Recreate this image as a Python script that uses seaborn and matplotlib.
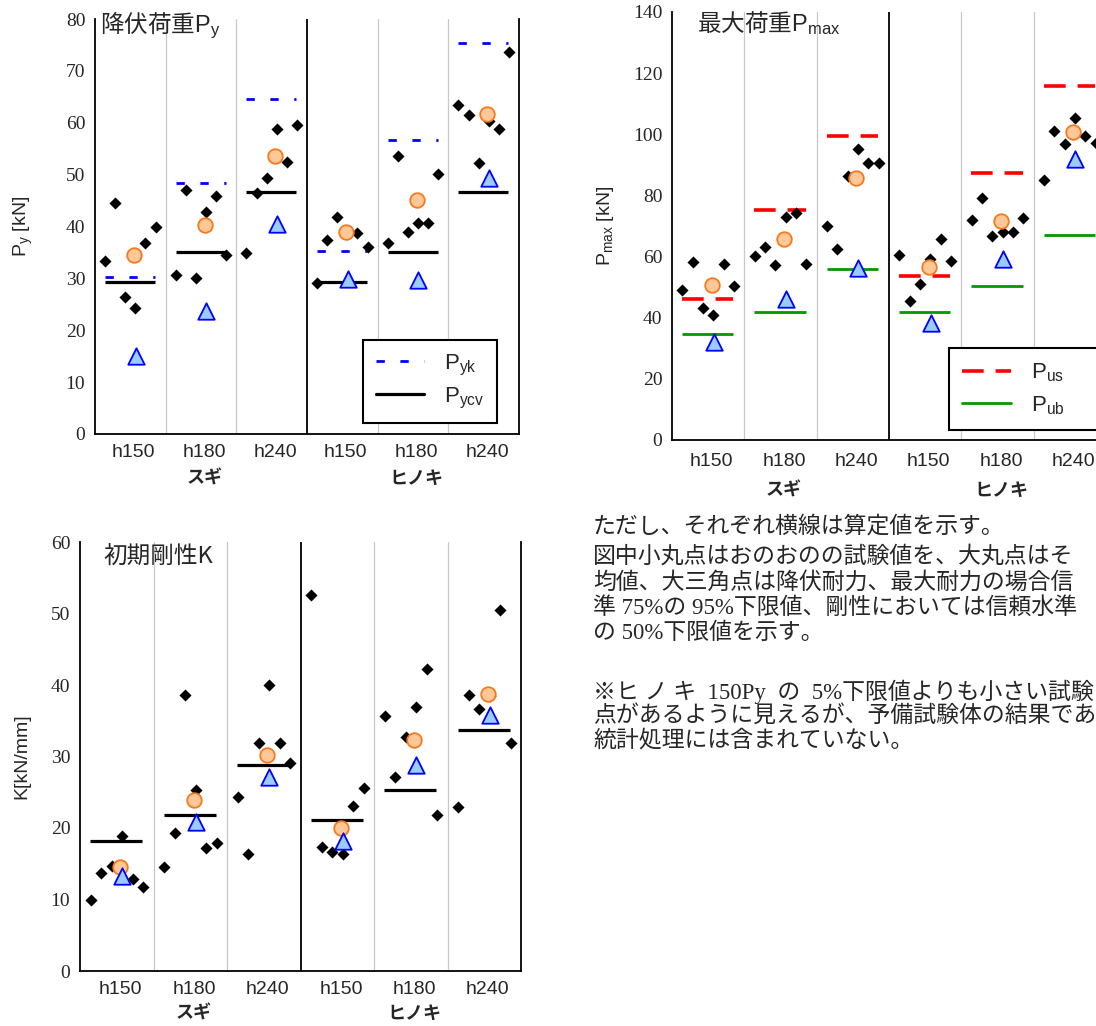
import numpy as np
import pandas as pd
import matplotlib
matplotlib.use("Agg")
import matplotlib.pyplot as plt
import seaborn as sns
from matplotlib.lines import Line2D
from matplotlib.transforms import blended_transform_factory

sns.set_theme(style="white")
plt.rcParams['font.family'] = ['Liberation Sans', 'Noto Sans CJK JP', 'DejaVu Sans']
plt.rcParams['mathtext.fontset'] = 'custom'
plt.rcParams['mathtext.rm'] = 'Liberation Sans'
plt.rcParams['mathtext.it'] = 'Liberation Sans'
plt.rcParams['mathtext.bf'] = 'Liberation Sans:bold'

# ---------------- data ----------------
groups = ["h150", "h180", "h240", "h150", "h180", "h240"]
species = ["スギ", "ヒノキ"]

py_tests = [
    [33.4, 44.5, 26.4, 24.3, 36.9, 40.0],
    [30.6, 47.1, 30.1, 42.8, 45.9, 34.5],
    [34.9, 46.5, 49.3, 58.7, 52.5, 59.6],
    [29.2, 37.4, 41.9, 38.6, 38.8, 36.0],
    [36.9, 53.6, 38.9, 40.6, 40.6, 50.2],
    [63.5, 61.5, 52.2, 60.3, 58.7, 73.7],
]
py_mean = [34.6, 40.3, 53.6, 38.9, 45.1, 61.6]
py_lower = [15.0, 23.8, 40.4, 29.9, 29.7, 49.3]
pyk = [30.3, 48.3, 64.5, 35.3, 56.6, 75.3]
pycv = [29.3, 35.0, 46.7, 29.3, 35.0, 46.7]

pmax_tests = [
    [49.0, 58.1, 43.1, 41.0, 57.6, 50.5],
    [60.1, 63.1, 57.1, 73.1, 74.2, 57.6],
    [70.1, 62.6, 86.5, 95.2, 90.6, 90.6],
    [60.6, 45.5, 51.1, 59.1, 65.7, 58.6],
    [72.1, 79.1, 66.6, 68.0, 68.0, 72.6],
    [85.1, 101.2, 96.7, 105.2, 99.6, 97.1],
]
pmax_mean = [50.6, 65.7, 85.7, 56.7, 71.7, 100.7]
pmax_lower = [32.2, 46.2, 56.2, 38.4, 59.1, 91.9]
pus = [46.2, 75.1, 99.5, 53.7, 87.5, 115.9]
pub = [34.8, 41.8, 55.9, 41.8, 50.4, 66.9]

k_tests = [
    [9.9, 13.7, 14.7, 18.9, 12.8, 11.7],
    [14.5, 19.3, 38.6, 25.3, 17.2, 17.9],
    [24.4, 16.4, 31.9, 40.0, 31.9, 29.1],
    [52.6, 17.4, 16.6, 16.4, 23.1, 25.6],
    [35.7, 27.1, 32.7, 36.9, 42.2, 21.8],
    [22.9, 38.6, 36.7, 38.5, 50.5, 31.9],
]
k_mean = [14.5, 23.9, 30.2, 20.0, 32.3, 38.8]
k_lower = [13.3, 20.8, 27.1, 18.2, 28.8, 35.8]
k_calc = [18.2, 21.75, 28.8, 21.1, 25.3, 33.7]

note_lines = [
    "ただし、それぞれ横線は算定値を示す。",
    "図中小丸点はおのおのの試験値を、大丸点はそ",
    "均値、大三角点は降伏耐力、最大耐力の場合信",
    "準 75%の 95%下限値、剛性においては信頼水準",
    "の 50%下限値を示す。",
    "※ヒ ノ キ  150Py  の  5%下限値よりも小さい試験",
    "点があるように見えるが、予備試験体の結果であ",
    "統計処理には含まれていない。",
]

# ---------------- style ----------------
W, H = 1096, 1026
fig = plt.figure(figsize=(W / 100, H / 100), dpi=100)

def fig_axes(left, top, right, bottom):
    return fig.add_axes([left / W, 1 - bottom / H, (right - left) / W, (bottom - top) / H])

ax1 = fig_axes(95, 19, 519, 434)
ax2 = fig_axes(672, 12, 1106, 440)
ax3 = fig_axes(80, 542, 521, 971)

CIRC_FILL, CIRC_EDGE = "#FFC896", "#F7791F"
TRI_FILL, TRI_EDGE = "#99CCFF", "#0000FF"
SERIF = ["Liberation Serif", "DejaVu Serif"]
JP = ["Noto Sans CJK JP", "DejaVu Sans"]

offsets = np.arange(1, 7) / 7.0
LX0, LX1 = 0.14, 0.85


def panel(ax, tests, means, lowers, ylim, ystep, lines, title, title_xy, ylabel, ylab_x,
          xlab_pad, sp_y):
    rows = []
    for g, vals in enumerate(tests):
        for j, v in enumerate(vals):
            rows.append({"x": g + offsets[j], "v": v})
    df = pd.DataFrame(rows)
    dm = pd.DataFrame({"x": np.arange(6) + 0.55, "v": means})
    dl = pd.DataFrame({"x": np.arange(6) + 0.575, "v": lowers})

    # separators
    for g in range(1, 6):
        if g == 3:
            ax.axvline(g, color="black", lw=1.3, zorder=1)
        else:
            ax.axvline(g, color="#C8C8C8", lw=0.9, zorder=1)

    # calculated lines
    for vals, kw in lines:
        for g, v in enumerate(vals):
            ax.plot([g + LX0, g + LX1], [v, v], zorder=2, solid_capstyle="butt",
                    dash_capstyle="butt", **kw)

    sns.scatterplot(data=df, x="x", y="v", marker="D", s=38, color="black",
                    linewidth=0, ax=ax, zorder=3)
    sns.scatterplot(data=dm, x="x", y="v", marker="o", s=110, color=CIRC_FILL,
                    edgecolor=CIRC_EDGE, linewidth=1.3, ax=ax, zorder=4)
    sns.scatterplot(data=dl, x="x", y="v", marker="^", s=140, color=TRI_FILL,
                    edgecolor=TRI_EDGE, linewidth=1.3, ax=ax, zorder=5)

    ax.set_xlim(0, 6)
    ax.set_ylim(*ylim)
    ax.set_yticks(np.arange(ylim[0], ylim[1] + 0.1, ystep))
    ax.set_xticks(np.arange(6) + 0.55)
    ax.set_xticklabels(groups, fontsize=14)
    ax.tick_params(axis="x", length=0, pad=xlab_pad)
    ax.tick_params(axis="y", direction="out", length=4, width=1.1, color="black",
                   labelsize=14, pad=3)
    for t in ax.get_yticklabels():
        t.set_fontfamily(SERIF)
    ax.set_xlabel("")
    ax.set_ylabel(ylabel, fontsize=14)
    ax.yaxis.set_label_coords(ylab_x, 0.5)
    ax.spines["top"].set_visible(False)
    for s in ("left", "bottom", "right"):
        ax.spines[s].set_color("black")
        ax.spines[s].set_linewidth(1.3)
    ax.grid(False)

    tr = blended_transform_factory(ax.transData, ax.transAxes)
    ax.text(1.55, sp_y, species[0], transform=tr, ha="center", va="center",
            fontsize=13, fontweight="bold", family=JP)
    ax.text(4.55, sp_y, species[1], transform=tr, ha="center", va="center",
            fontsize=13, fontweight="bold", family=JP)
    ax.text(title_xy[0], title_xy[1], title, transform=ax.transAxes, ha="left",
            va="center", fontsize=17, fontweight="normal",
            family=["Noto Sans CJK JP", "Liberation Sans"])


blue_dash = dict(color="#0000FF", lw=2.0, linestyle=(0, (3.0, 5.6)))
black_solid = dict(color="black", lw=2.3, linestyle="-")
red_dash = dict(color="#FF0000", lw=2.6, linestyle=(0, (6.0, 3.3)))
green_solid = dict(color="#009900", lw=2.0, linestyle="-")

panel(ax1, py_tests, py_mean, py_lower, (0, 80), 10,
      [(pyk, blue_dash), (pycv, black_solid)],
      "降伏荷重$\\mathrm{P}_{\\mathrm{y}}$", (0.012, 0.985),
      "$\\mathrm{P}_{\\mathrm{y}}$ [kN]", -0.142, 7, -0.106)
panel(ax2, pmax_tests, pmax_mean, pmax_lower, (0, 140), 20,
      [(pus, red_dash), (pub, green_solid)],
      "最大荷重$\\mathrm{P}_{\\mathrm{max}}$", (0.058, 0.975),
      "$\\mathrm{P}_{\\mathrm{max}}$ [kN]", -0.13, 9, -0.117)
panel(ax3, k_tests, k_mean, k_lower, (0, 60), 10,
      [(k_calc, black_solid)],
      "初期剛性K", (0.052, 0.965),
      "K[kN/mm]", -0.113, 7, -0.098)

# legends
h1 = [Line2D([], [], **blue_dash), Line2D([], [], **black_solid)]
ax1.legend(h1, ["$\\mathrm{P}_{\\mathrm{yk}}$", "$\\mathrm{P}_{\\mathrm{ycv}}$"],
           loc="lower right", bbox_to_anchor=(0.948, 0.027), borderaxespad=0,
           fontsize=16, frameon=True, fancybox=False, edgecolor="black",
           framealpha=1, handlelength=2.2, handletextpad=0.9, borderpad=0.55,
           labelspacing=0.35).get_frame().set_linewidth(1.5)
h2 = [Line2D([], [], **red_dash), Line2D([], [], **green_solid)]
ax2.legend(h2, ["$\\mathrm{P}_{\\mathrm{us}}$", "$\\mathrm{P}_{\\mathrm{ub}}$"],
           loc="lower left", bbox_to_anchor=(0.638, 0.023, 0.42, 0.2), mode="expand",
           borderaxespad=0,
           fontsize=16, frameon=True, fancybox=False, edgecolor="black",
           framealpha=1, handlelength=2.2, handletextpad=0.9, borderpad=0.6,
           labelspacing=0.45).get_frame().set_linewidth(1.5)

# notes
note_y = [527, 557, 583, 608, 633, 692, 716, 741]
for txt, yy in zip(note_lines, note_y):
    fig.text(593 / W, 1 - yy / H, txt, ha="left", va="center", fontsize=16.5,
             family=["Liberation Serif", "Noto Sans CJK JP"])

fig.savefig("out.png", dpi=100)
